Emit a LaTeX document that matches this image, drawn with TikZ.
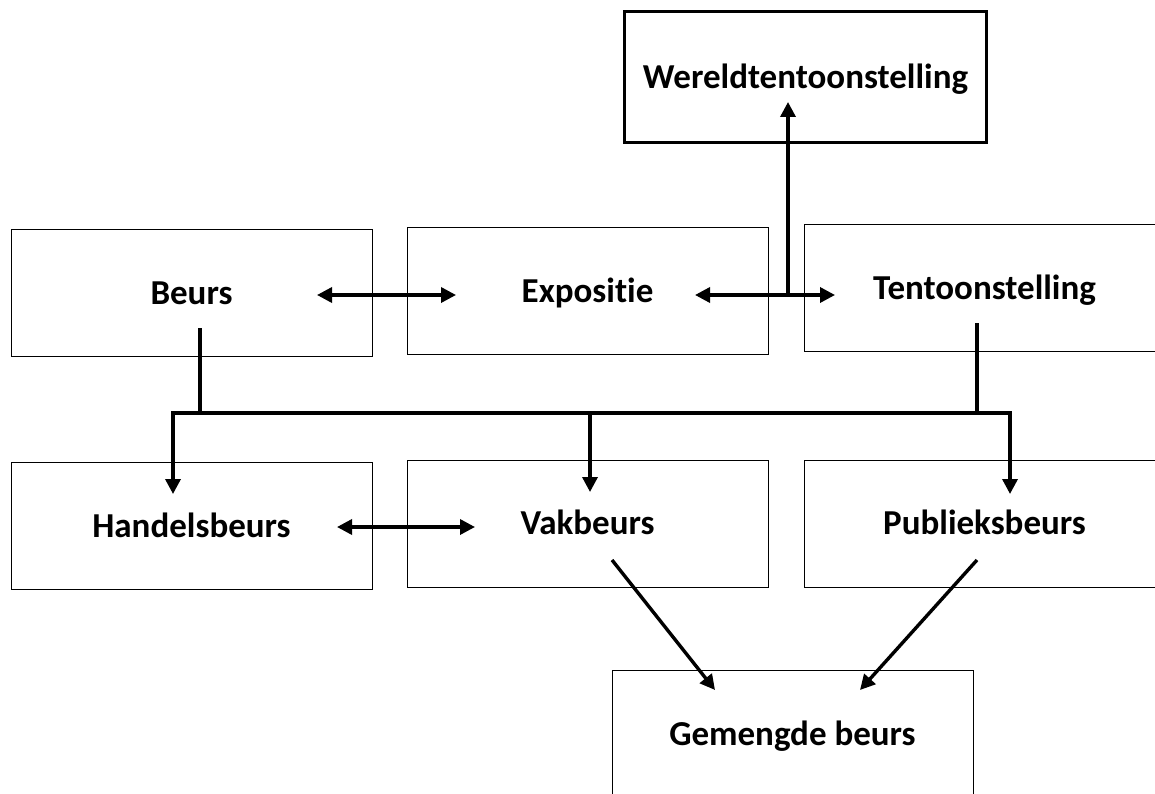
\documentclass[tikz,border=0pt]{standalone}
\usepackage{fontspec}
\setmainfont{Carlito}[Ligatures=NoCommon]
\usetikzlibrary{arrows.meta}

\tikzset{
  blok/.style = {draw, line width=1pt, minimum width=361pt, minimum height=127pt,
    inner sep=0pt, text height=22pt, text depth=0pt,
    font=\bfseries\fontsize{35}{40}\selectfont},
  pijl/.style = {line width=3.4pt, -{Triangle[length=15pt,width=15pt]}},
  tweepijl/.style = {line width=3.4pt, {Triangle[length=15pt,width=15pt]}-{Triangle[length=15pt,width=15pt]}},
  lijn/.style = {line width=3.4pt}
}

\begin{document}
\begin{tikzpicture}[x=1pt, y=-1pt]
  \useasboundingbox (0,0) rectangle (1155,794);
  \node[blok, line width=3pt, minimum width=362pt, minimum height=131pt] (wereld) at (805.5,77.5) {Wereldtentoonstelling};
  \node[blok] (beurs) at (191.5,293) {Beurs};
  \node[blok] (expo) at (587.5,291) {Expositie};
  \node[blok] (tent) at (984.5,288) {Tentoonstelling};
  \node[blok] (handel) at (191.5,526) {Handelsbeurs};
  \node[blok] (vak) at (587.5,523.5) {Vakbeurs};
  \node[blok] (publiek) at (984.5,523.5) {Publieksbeurs};
  \node[blok] (gemengd) at (792.5,734) {Gemengde beurs};

  \coordinate (B1) at (317,295);
  \coordinate (E1) at (456,295);
  \coordinate (E2) at (695,295);
  \coordinate (T1) at (835,295);
  \coordinate (K) at (788,295);
  \coordinate (W1) at (788,102);
  \coordinate (B2) at (200,328);
  \coordinate (B3) at (200,413);
  \coordinate (T2) at (977,323);
  \coordinate (T3) at (977,413);
  \coordinate (L) at (173,413);
  \coordinate (M) at (590,413);
  \coordinate (R) at (1010,413);
  \coordinate (H1) at (173,494);
  \coordinate (V1) at (590,492);
  \coordinate (P1) at (1010,494);
  \coordinate (H2) at (337,527);
  \coordinate (V2) at (475,527);
  \coordinate (V3) at (612,560);
  \coordinate (G1) at (715,690);
  \coordinate (P2) at (977,560);
  \coordinate (G2) at (860,690);

  \draw[tweepijl] (B1) -- (E1);
  \draw[tweepijl] (E2) -- (T1);
  \draw[pijl] (K) -- (W1);
  \draw[lijn] (B2) -- (B3) (T2) -- (T3);
  \draw[lijn, line cap=rect] (L) -- (R);
  \draw[pijl] (L) -- (H1);
  \draw[pijl] (M) -- (V1);
  \draw[pijl] (R) -- (P1);
  \draw[tweepijl] (H2) -- (V2);
  \draw[pijl] (V3) -- (G1);
  \draw[pijl] (P2) -- (G2);
\end{tikzpicture}
\end{document}
